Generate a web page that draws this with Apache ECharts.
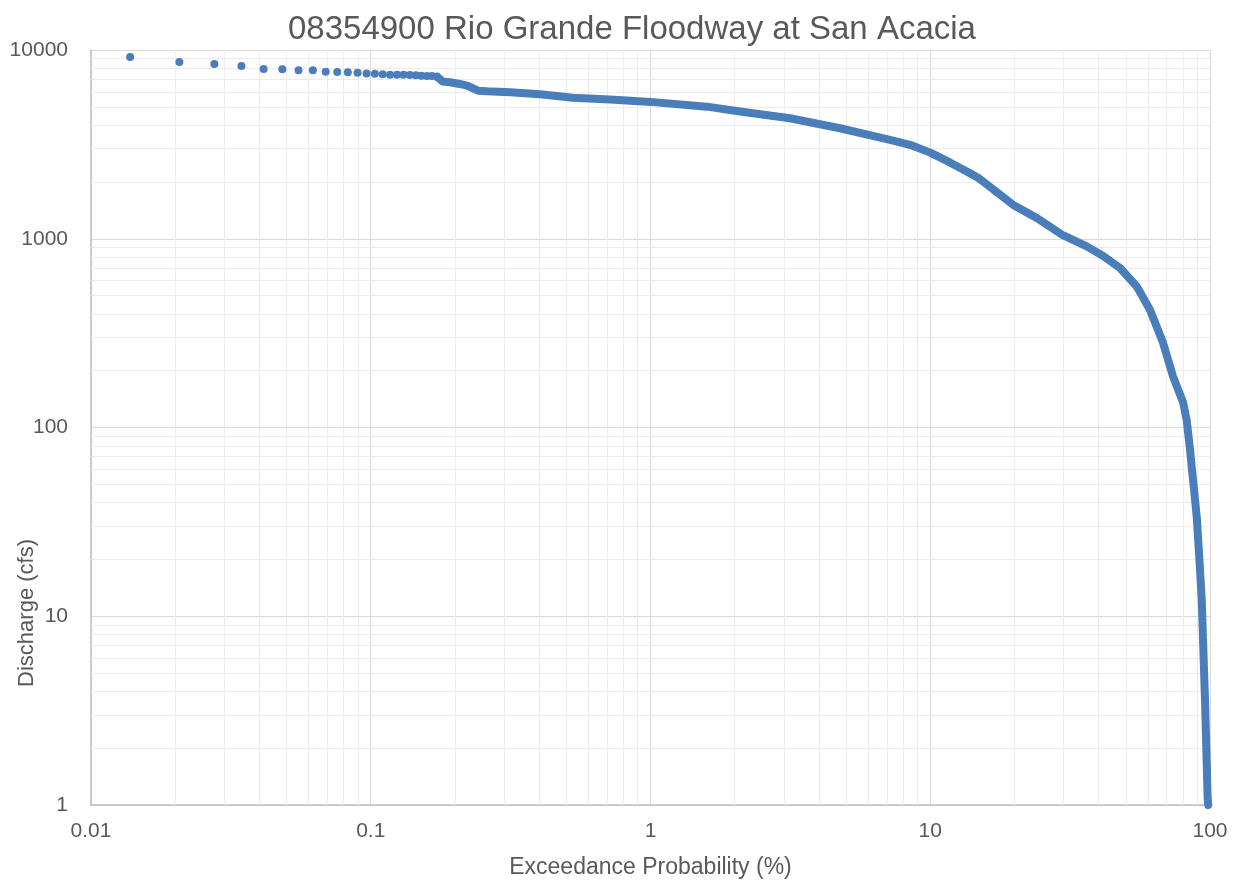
<!DOCTYPE html>
<html>
<head>
<meta charset="utf-8">
<script src="https://cdn.jsdelivr.net/npm/echarts@6/dist/echarts.min.js"></script>
<style>
html,body{margin:0;padding:0;background:#fff;}
#chart{width:1236px;height:884px;}
</style>
</head>
<body>
<div id="chart"></div>
<script>
// ---- data ----
const titleText = '08354900 Rio Grande Floodway at San Acacia';
const xName = 'Exceedance Probability (%)';
const yName = 'Discharge (cfs)';
const xTickLabels = ['0.01', '0.1', '1', '10', '100'];
const yTickLabels = ['1', '10', '100', '1000', '10000'];
const xMajor = [0.01, 0.1, 1, 10];
const yMajor = [1, 10, 100, 1000];
const minorMult = [2, 3, 4, 5, 6, 7, 8, 9];

// largest flows: individually visible points
const peakProb = [0.0138, 0.0207, 0.0276, 0.0345, 0.0414, 0.0483, 0.0552, 0.0621, 0.0690, 0.0759,
  0.0828, 0.0897, 0.0966, 0.1034, 0.1103, 0.1172, 0.1241, 0.1310, 0.1379, 0.1448, 0.1517, 0.1586, 0.1655, 0.1724];
const peakQ = [9180, 8640, 8430, 8230, 7940, 7910, 7810, 7800, 7680, 7650,
  7620, 7580, 7500, 7490, 7440, 7400, 7400, 7390, 7370, 7350, 7310, 7290, 7280, 7220];

// dense part of the record (points merge into a band)
const curveProb = [0.1724, 0.181, 0.192, 0.208, 0.221, 0.232, 0.242, 0.260, 0.315, 0.403, 0.528, 0.717,
  1.00, 1.59, 2.09, 3.15, 4.76, 7.18, 8.6, 10.0, 11.8, 12.8, 13.9, 14.7, 15.1, 19.8, 24.0, 29.8, 36.4,
  41.5, 47.7, 54.8, 61.0, 67.9, 73.8, 80.1, 82.5, 83.5, 84.8, 86.2, 88.4, 89.8, 92.1, 93.4, 95.96, 98.1, 98.6];
const curveQ = [7220, 6800, 6750, 6610, 6470, 6270, 6090, 6045, 5970, 5830, 5590, 5460,
  5310, 5010, 4720, 4350, 3850, 3340, 3120, 2860, 2530, 2370, 2220, 2120, 2065, 1510, 1290, 1044, 908,
  810, 700, 557, 421, 282, 186, 136, 110, 94, 77, 60, 41.6, 32.6, 17.7, 12.3, 3.64, 1.08, 1.0];

// ---- build ----
const peakData = peakProb.map((p, i) => [p, peakQ[i]]);
const curveData = curveProb.map((p, i) => [p, curveQ[i]]);
const minorLines = [];
xMajor.forEach(d => minorMult.forEach(m => minorLines.push({ xAxis: +(d * m).toPrecision(6) })));
yMajor.forEach(d => minorMult.forEach(m => minorLines.push({ yAxis: +(d * m).toPrecision(6) })));

const txt = '#595959';
const font = 'Liberation Sans';
const blue = '#4A7EBB';

const chart = echarts.init(document.getElementById('chart'), null, { renderer: 'canvas' });
chart.setOption({
  animation: false,
  backgroundColor: '#ffffff',
  title: {
    text: titleText, left: 283, top: 8,
    textStyle: { fontFamily: font, fontSize: 33, fontWeight: 'normal', color: txt }
  },
  grid: { left: 91, right: 26, top: 50, bottom: 78, containLabel: false },
  xAxis: {
    type: 'log', logBase: 10, min: 0.01, max: 100, z: 3,
    name: xName, nameLocation: 'middle', nameGap: 51,
    nameTextStyle: { fontFamily: font, fontSize: 23, color: txt },
    axisLine: { show: true, onZero: false, lineStyle: { color: '#bfbfbf', width: 1.5 } },
    axisTick: { show: false },
    axisLabel: { fontFamily: font, fontSize: 21, color: txt, margin: 16,
      formatter: (v, i) => xTickLabels[i] },
    splitLine: { show: true, lineStyle: { color: '#d9d9d9', width: 1 } },
    minorTick: { show: false }, minorSplitLine: { show: false }
  },
  yAxis: {
    type: 'log', logBase: 10, min: 1, max: 10000, z: 3,
    axisLine: { show: true, onZero: false, lineStyle: { color: '#bfbfbf', width: 1.5 } },
    axisTick: { show: false },
    axisLabel: { fontFamily: font, fontSize: 21, color: txt, margin: 23,
      formatter: (v, i) => yTickLabels[i] },
    splitLine: { show: true, lineStyle: { color: '#d9d9d9', width: 1 } },
    minorTick: { show: false }, minorSplitLine: { show: false }
  },
  graphic: [{
    type: 'text', left: 16, top: 539, rotation: Math.PI / 2,
    style: { text: yName, fontFamily: font, fontSize: 22, fill: txt }
  }],
  series: [
    {
      type: 'scatter', data: [], z: 1, silent: true,
      markLine: {
        silent: true, symbol: ['none', 'none'], label: { show: false },
        lineStyle: { color: '#ececec', width: 1, type: 'solid' },
        emphasis: { disabled: true },
        data: minorLines
      }
    },
    {
      type: 'line', data: curveData, z: 5, showSymbol: false, symbol: 'none', clip: false,
      lineStyle: { color: blue, width: 8, cap: 'round', join: 'round' }
    },
    {
      type: 'scatter', data: peakData, z: 6, symbolSize: 8, clip: false,
      itemStyle: { color: blue, opacity: 1 }
    }
  ]
});
</script>
</body>
</html>
